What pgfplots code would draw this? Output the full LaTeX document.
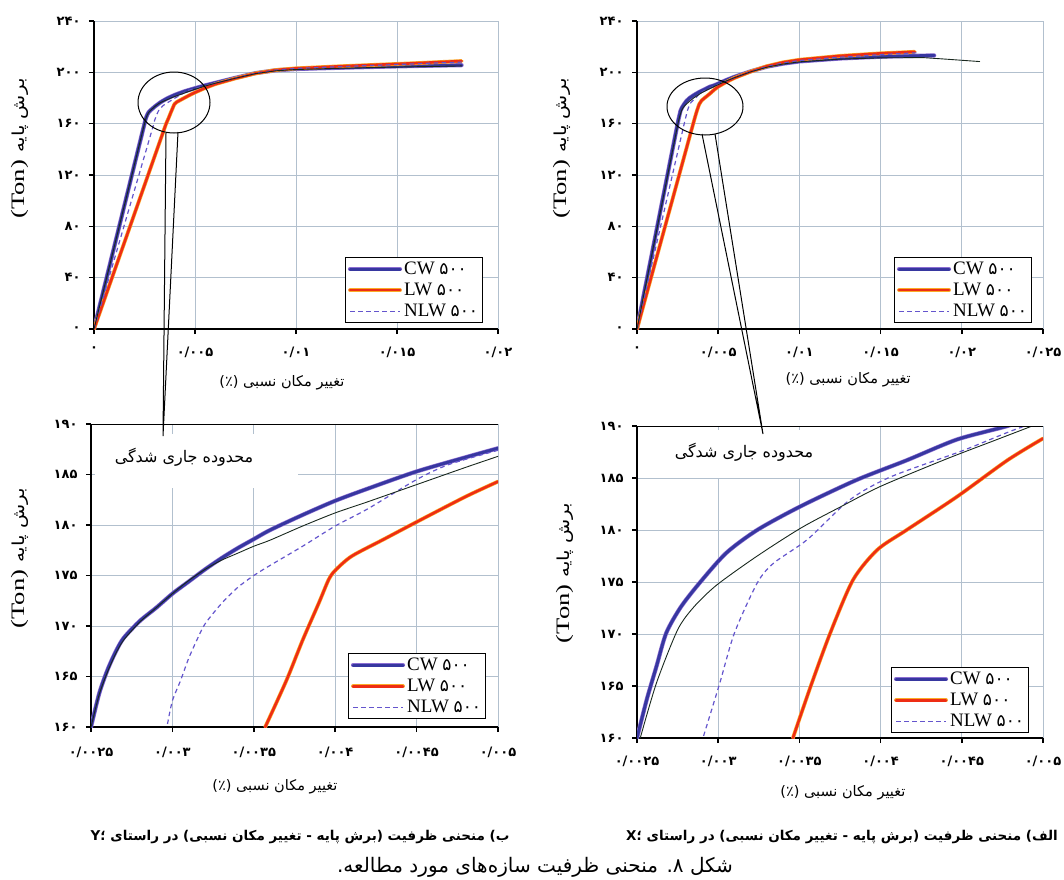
\documentclass[border=0pt]{standalone}
\usepackage{fontspec}
\setmainfont{Liberation Serif}
\newfontfamily\fa[Script=Arabic]{DejaVu Sans}
\TeXXeTstate=1
\usepackage{graphicx}
\usepackage{pgfplots}
\usepackage{pgfplotstable}
\pgfplotsset{compat=1.18}

\definecolor{cwcore}{RGB}{55,55,160}
\definecolor{cwhalo}{RGB}{140,110,210}
\definecolor{lwcore}{RGB}{238,45,20}
\definecolor{lwhalo}{RGB}{250,170,40}
\definecolor{nlw}{RGB}{100,85,205}
\definecolor{blk}{RGB}{25,40,30}
\definecolor{gridc}{RGB}{178,192,206}

% ---------- Y direction (left panels) ----------
\pgfplotstableread{
x y
0 0
0.0025 160
0.00255 163.3
0.0026 165.6
0.00265 167.4
0.0027 168.8
0.0028 170.5
0.0029 171.8
0.003 173.2
0.0031 174.4
0.0032 175.6
0.0033 176.7
0.0034 177.7
0.0035 178.6
0.0036 179.5
0.0038 181.0
0.004 182.4
0.0042 183.6
0.0045 185.3
0.0048 186.7
0.005 187.6
0.0055 189.8
0.006 191.8
0.007 195.7
0.008 199.4
0.009 201.6
0.01 202.6
0.012 203.5
0.014 204.3
0.016 205.0
0.0182 205.6
}\cwy
\pgfplotstableread{
x y
0 0
0.0025 160
0.00255 163.2
0.0026 165.4
0.00265 167.2
0.0027 168.6
0.0028 170.4
0.0029 171.8
0.003 173.2
0.0031 174.5
0.0032 175.6
0.0033 176.5
0.0034 177.2
0.0035 177.9
0.0036 178.5
0.0038 179.9
0.004 181.2
0.0042 182.3
0.0045 184.0
0.0048 185.7
0.005 186.8
0.0055 189.3
0.006 191.5
0.007 195.4
0.008 199.0
0.009 201.2
0.01 202.2
0.012 203.1
0.014 203.8
0.016 204.4
0.0182 205.0
}\blky
\pgfplotstableread{
x y
0 0
0.00297 160.3
0.003 162.6
0.00305 164.6
0.0031 166.8
0.00315 168.6
0.0032 170.2
0.0033 172.2
0.0034 173.8
0.0035 175.0
0.0036 176.0
0.0038 177.9
0.004 179.9
0.0042 181.6
0.0045 184.5
0.0047 186.0
0.005 187.4
0.0055 189.6
0.006 191.6
0.007 195.6
0.008 199.3
0.009 201.8
0.01 203.0
0.012 204.3
0.014 205.5
0.016 206.7
0.0182 208.0
}\nlwy
\pgfplotstableread{
x y
0 0
0.00357 160
0.0037 164.6
0.0038 168.6
0.0039 172.3
0.00396 174.6
0.004 175.5
0.0041 176.9
0.0043 178.6
0.0045 180.3
0.0048 182.8
0.005 184.3
0.0055 187.8
0.006 190.8
0.007 195.3
0.008 199.2
0.009 201.8
0.01 203.1
0.012 204.6
0.014 205.9
0.016 207.2
0.0182 208.8
}\lwy

% ---------- X direction (right panels) ----------
\pgfplotstableread{
x y
0 0
0.0025 160
0.00256 163.7
0.00262 166.9
0.00268 170.1
0.00277 172.6
0.00289 175.0
0.00305 177.8
0.00324 180.0
0.00351 182.3
0.00385 184.8
0.00416 186.7
0.00447 188.7
0.00478 190.0
0.005 191.2
0.0055 194.0
0.006 196.5
0.007 200.8
0.008 204.4
0.009 206.8
0.01 208.5
0.0125 210.8
0.015 212.2
0.0183 213.2
}\cwx
\pgfplotstableread{
x y
0 0
0.00252 160
0.00262 165.3
0.00275 170.4
0.00285 172.6
0.00299 174.7
0.00324 177.5
0.00351 180.2
0.00375 182.2
0.004 184.2
0.0044 186.8
0.0047 188.6
0.0049 189.8
0.005 190.4
0.0055 193.3
0.006 195.8
0.007 200.4
0.008 204.0
0.009 206.5
0.01 208.2
0.0125 210.3
0.015 211.3
0.0176 211.5
0.019 210.3
0.0211 208.4
}\blkx
\pgfplotstableread{
x y
0 0
0.00291 160.2
0.00301 165.3
0.0031 170.1
0.00324 174.9
0.00334 176.8
0.00355 179.1
0.00381 182.9
0.00406 185.1
0.0045 187.6
0.0048 189.5
0.005 190.6
0.006 195.8
0.007 200.6
0.008 204.5
0.009 207.3
0.01 209.2
0.0125 211.8
0.015 213.8
0.0172 215.2
}\nlwx
\pgfplotstableread{
x y
0 0
0.00346 160
0.00357 165
0.00369 170.1
0.00383 175.2
0.00398 178.1
0.00416 180.0
0.00447 183.2
0.00478 186.7
0.005 188.8
0.0055 192.5
0.006 195.6
0.007 200.6
0.008 204.8
0.009 207.8
0.01 209.8
0.0125 212.8
0.015 214.8
0.0171 216.0
}\lwx

\pgfplotsset{
  myaxis/.style={
    scale only axis,
    axis x line*=bottom, axis y line*=left,
    axis line style={black, line width=2.5pt},
    grid=major,
    major grid style={gridc, line width=1pt},
    tick align=outside,
    major tick length=5pt,
    tick style={black, line width=1.5pt},
    scaled x ticks=false, scaled y ticks=false,
    ticklabel style={font=\fa\bfseries\fontsize{13}{15}\selectfont},
    xticklabel style={yshift=-9pt},
    yticklabel style={xshift=-5pt},
    xlabel style={font=\fa\fontsize{14.5}{16}\selectfont, anchor=center},
    ylabel style={anchor=center},
    legend style={draw=black, line width=0.8pt, fill=white,
      font=\fontsize{19}{20}\selectfont, inner sep=2.5pt,
      row sep=3pt, anchor=south east},
    legend cell align=left,
    legend image code/.code={\draw[##1] (0pt,0pt) -- (50pt,0pt);},
    every axis plot/.append style={line join=round, line cap=round},
  },
  cw/.style={draw=cwcore, line width=3pt, preaction={draw=cwhalo, line width=4.2pt}},
  lw/.style={draw=lwcore, line width=2.6pt, preaction={draw=lwhalo, line width=3.8pt}},
  nlw/.style={draw=nlw, line width=1.2pt, dash pattern=on 4.5pt off 3.5pt, line cap=butt},
  blk/.style={draw=blk, line width=0.9pt},
  zoomed/.style={smooth, tension=0.45, restrict x to domain=0.0024:0.0051},
}

\newcommand{\xlab}{(٪) \beginR تغییر مکان نسبی\endR}
\newcommand{\ylab}{\scalebox{1.4}[1]{\fontsize{19}{21}\selectfont(Ton)}\hspace{7pt}%
  \scalebox{1.2}[1]{\hbox{\fa\fontsize{16.5}{18}\selectfont\beginR برش پایه\endR}}}
\newcommand{\num}[1]{{\fa\fontsize{17}{19}\selectfont #1}}

\begin{document}
\begin{tikzpicture}
\useasboundingbox (0pt,0pt) rectangle (1064pt,-879pt);

% ===== Top-left (Y direction) =====
\begin{axis}[myaxis, at={(94pt,-329pt)}, anchor=south west,
  width=404pt, height=308pt,
  xmin=0, xmax=0.02, ymin=0, ymax=240,
  xtick={0,0.005,0.01,0.015,0.02},
  xticklabels={۰,۰/۰۰۵,۰/۰۱,۰/۰۱۵,۰/۰۲},
  ytick={0,40,80,120,160,200,240},
  yticklabels={۰,۴۰,۸۰,۱۲۰,۱۶۰,۲۰۰,۲۴۰},
  xlabel={\xlab}, ylabel={\ylab},
  xlabel style={at={(axis description cs:0.465,-0.175)}},
  ylabel style={at={(axis description cs:-0.183,0.586)}},
  legend style={at={(axis description cs:1,0)}, xshift=-15pt, yshift=6pt}]
\addplot[cw] table {\cwy}; \addlegendentry{CW \num{۵۰۰}}
\addplot[lw] table {\lwy}; \addlegendentry{LW \num{۵۰۰}}
\addplot[nlw] table {\nlwy}; \addlegendentry{NLW \num{۵۰۰}}
\addplot[blk, forget plot] table {\blky};
\end{axis}

% ===== Top-right (X direction) =====
\begin{axis}[myaxis, at={(637pt,-329pt)}, anchor=south west,
  width=406pt, height=308pt,
  xmin=0, xmax=0.025, ymin=0, ymax=240,
  xtick={0,0.005,0.01,0.015,0.02,0.025},
  xticklabels={۰,۰/۰۰۵,۰/۰۱,۰/۰۱۵,۰/۰۲,۰/۰۲۵},
  ytick={0,40,80,120,160,200,240},
  yticklabels={۰,۴۰,۸۰,۱۲۰,۱۶۰,۲۰۰,۲۴۰},
  xlabel={\xlab}, ylabel={\ylab},
  xlabel style={at={(axis description cs:0.520,-0.166)}},
  ylabel style={at={(axis description cs:-0.185,0.586)}},
  legend style={at={(axis description cs:1,0)}, xshift=-11pt, yshift=6pt}]
\addplot[cw] table {\cwx}; \addlegendentry{CW \num{۵۰۰}}
\addplot[lw] table {\lwx}; \addlegendentry{LW \num{۵۰۰}}
\addplot[nlw] table {\nlwx}; \addlegendentry{NLW \num{۵۰۰}}
\addplot[blk, forget plot] table {\blkx};
\end{axis}

% ===== Bottom-left (Y direction, zoom) =====
\begin{axis}[myaxis, at={(91pt,-727pt)}, anchor=south west,
  width=407pt, height=303pt,
  xmin=0.0025, xmax=0.005, ymin=160, ymax=190,
  xtick={0.0025,0.003,0.0035,0.004,0.0045,0.005},
  xticklabels={۰/۰۰۲۵,۰/۰۰۳,۰/۰۰۳۵,۰/۰۰۴,۰/۰۰۴۵,۰/۰۰۵},
  ytick={160,165,170,175,180,185,190},
  yticklabels={۱۶۰,۱۶۵,۱۷۰,۱۷۵,۱۸۰,۱۸۵,۱۹۰},
  xticklabel style={yshift=-2pt},
  xlabel={\xlab}, ylabel={\ylab},
  xlabel style={at={(axis description cs:0.452,-0.198)}},
  ylabel style={at={(axis description cs:-0.174,0.557)}},
  legend style={at={(axis description cs:1,0)}, xshift=-12pt, yshift=8pt}]
\addplot[cw, zoomed] table {\cwy}; \addlegendentry{CW \num{۵۰۰}}
\addplot[lw, zoomed] table {\lwy}; \addlegendentry{LW \num{۵۰۰}}
\addplot[nlw, zoomed] table {\nlwy}; \addlegendentry{NLW \num{۵۰۰}}
\addplot[blk, zoomed, forget plot] table {\blky};
\draw[black, line width=1.6pt] (rel axis cs:0,1) -- (rel axis cs:1,1);
\end{axis}

% ===== Bottom-right (X direction, zoom) =====
\begin{axis}[myaxis, at={(637pt,-738pt)}, anchor=south west,
  width=406pt, height=312pt,
  xmin=0.0025, xmax=0.005, ymin=160, ymax=190,
  xtick={0.0025,0.003,0.0035,0.004,0.0045,0.005},
  xticklabels={۰/۰۰۲۵,۰/۰۰۳,۰/۰۰۳۵,۰/۰۰۴,۰/۰۰۴۵,۰/۰۰۵},
  ytick={160,165,170,175,180,185,190},
  yticklabels={۱۶۰,۱۶۵,۱۷۰,۱۷۵,۱۸۰,۱۸۵,۱۹۰},
  xlabel={\xlab}, ylabel={\ylab},
  xlabel style={at={(axis description cs:0.507,-0.176)}},
  ylabel style={at={(axis description cs:-0.177,0.529)}},
  legend style={at={(axis description cs:1,0)}, xshift=-14pt, yshift=5pt}]
\addplot[cw, zoomed] table {\cwx}; \addlegendentry{CW \num{۵۰۰}}
\addplot[lw, zoomed] table {\lwx}; \addlegendentry{LW \num{۵۰۰}}
\addplot[nlw, zoomed] table {\nlwx}; \addlegendentry{NLW \num{۵۰۰}}
\addplot[blk, zoomed, forget plot] table {\blkx};
\draw[black, line width=1.6pt] (rel axis cs:0,1) -- (rel axis cs:1,1);
\end{axis}

% ===== annotation boxes in zoom panels =====
\fill[white] (95pt,-434pt) rectangle (298pt,-488pt);
\node[font=\fa\fontsize{16}{18}\selectfont] at (184pt,-457pt) {\beginR محدوده جاری شدگی\endR};
\fill[white] (641pt,-430pt) rectangle (842pt,-478pt);
\node[font=\fa\fontsize{16}{18}\selectfont] at (744pt,-452pt) {\beginR محدوده جاری شدگی\endR};

% ===== callouts =====
\draw[black, line width=1pt] (174pt,-102.5pt) ellipse [x radius=36pt, y radius=30.5pt];
\draw[black, line width=1pt] (166pt,-133pt) -- (163pt,-436pt) -- (178pt,-132pt);
\draw[black, line width=1pt] (705pt,-106.5pt) ellipse [x radius=38pt, y radius=28.5pt];
\draw[black, line width=1pt] (702pt,-134pt) -- (763pt,-434pt) -- (715pt,-134pt);

% ===== captions =====
\node[font=\fa\bfseries\fontsize{13.5}{15}\selectfont] at (300pt,-837pt)
  {\beginR ب) منحنی ظرفیت (برش پایه - تغییر مکان نسبی) در راستای Y؛\endR};
\node[font=\fa\bfseries\fontsize{13.5}{15}\selectfont] at (842pt,-837pt)
  {\beginR الف) منحنی ظرفیت (برش پایه - تغییر مکان نسبی) در راستای X؛\endR};
\node[font=\fa\fontsize{20}{22}\selectfont] at (535pt,-867pt)
  {\beginR شکل ۸. منحنی ظرفیت سازه‌های مورد مطالعه.\endR};
\end{tikzpicture}
\end{document}
